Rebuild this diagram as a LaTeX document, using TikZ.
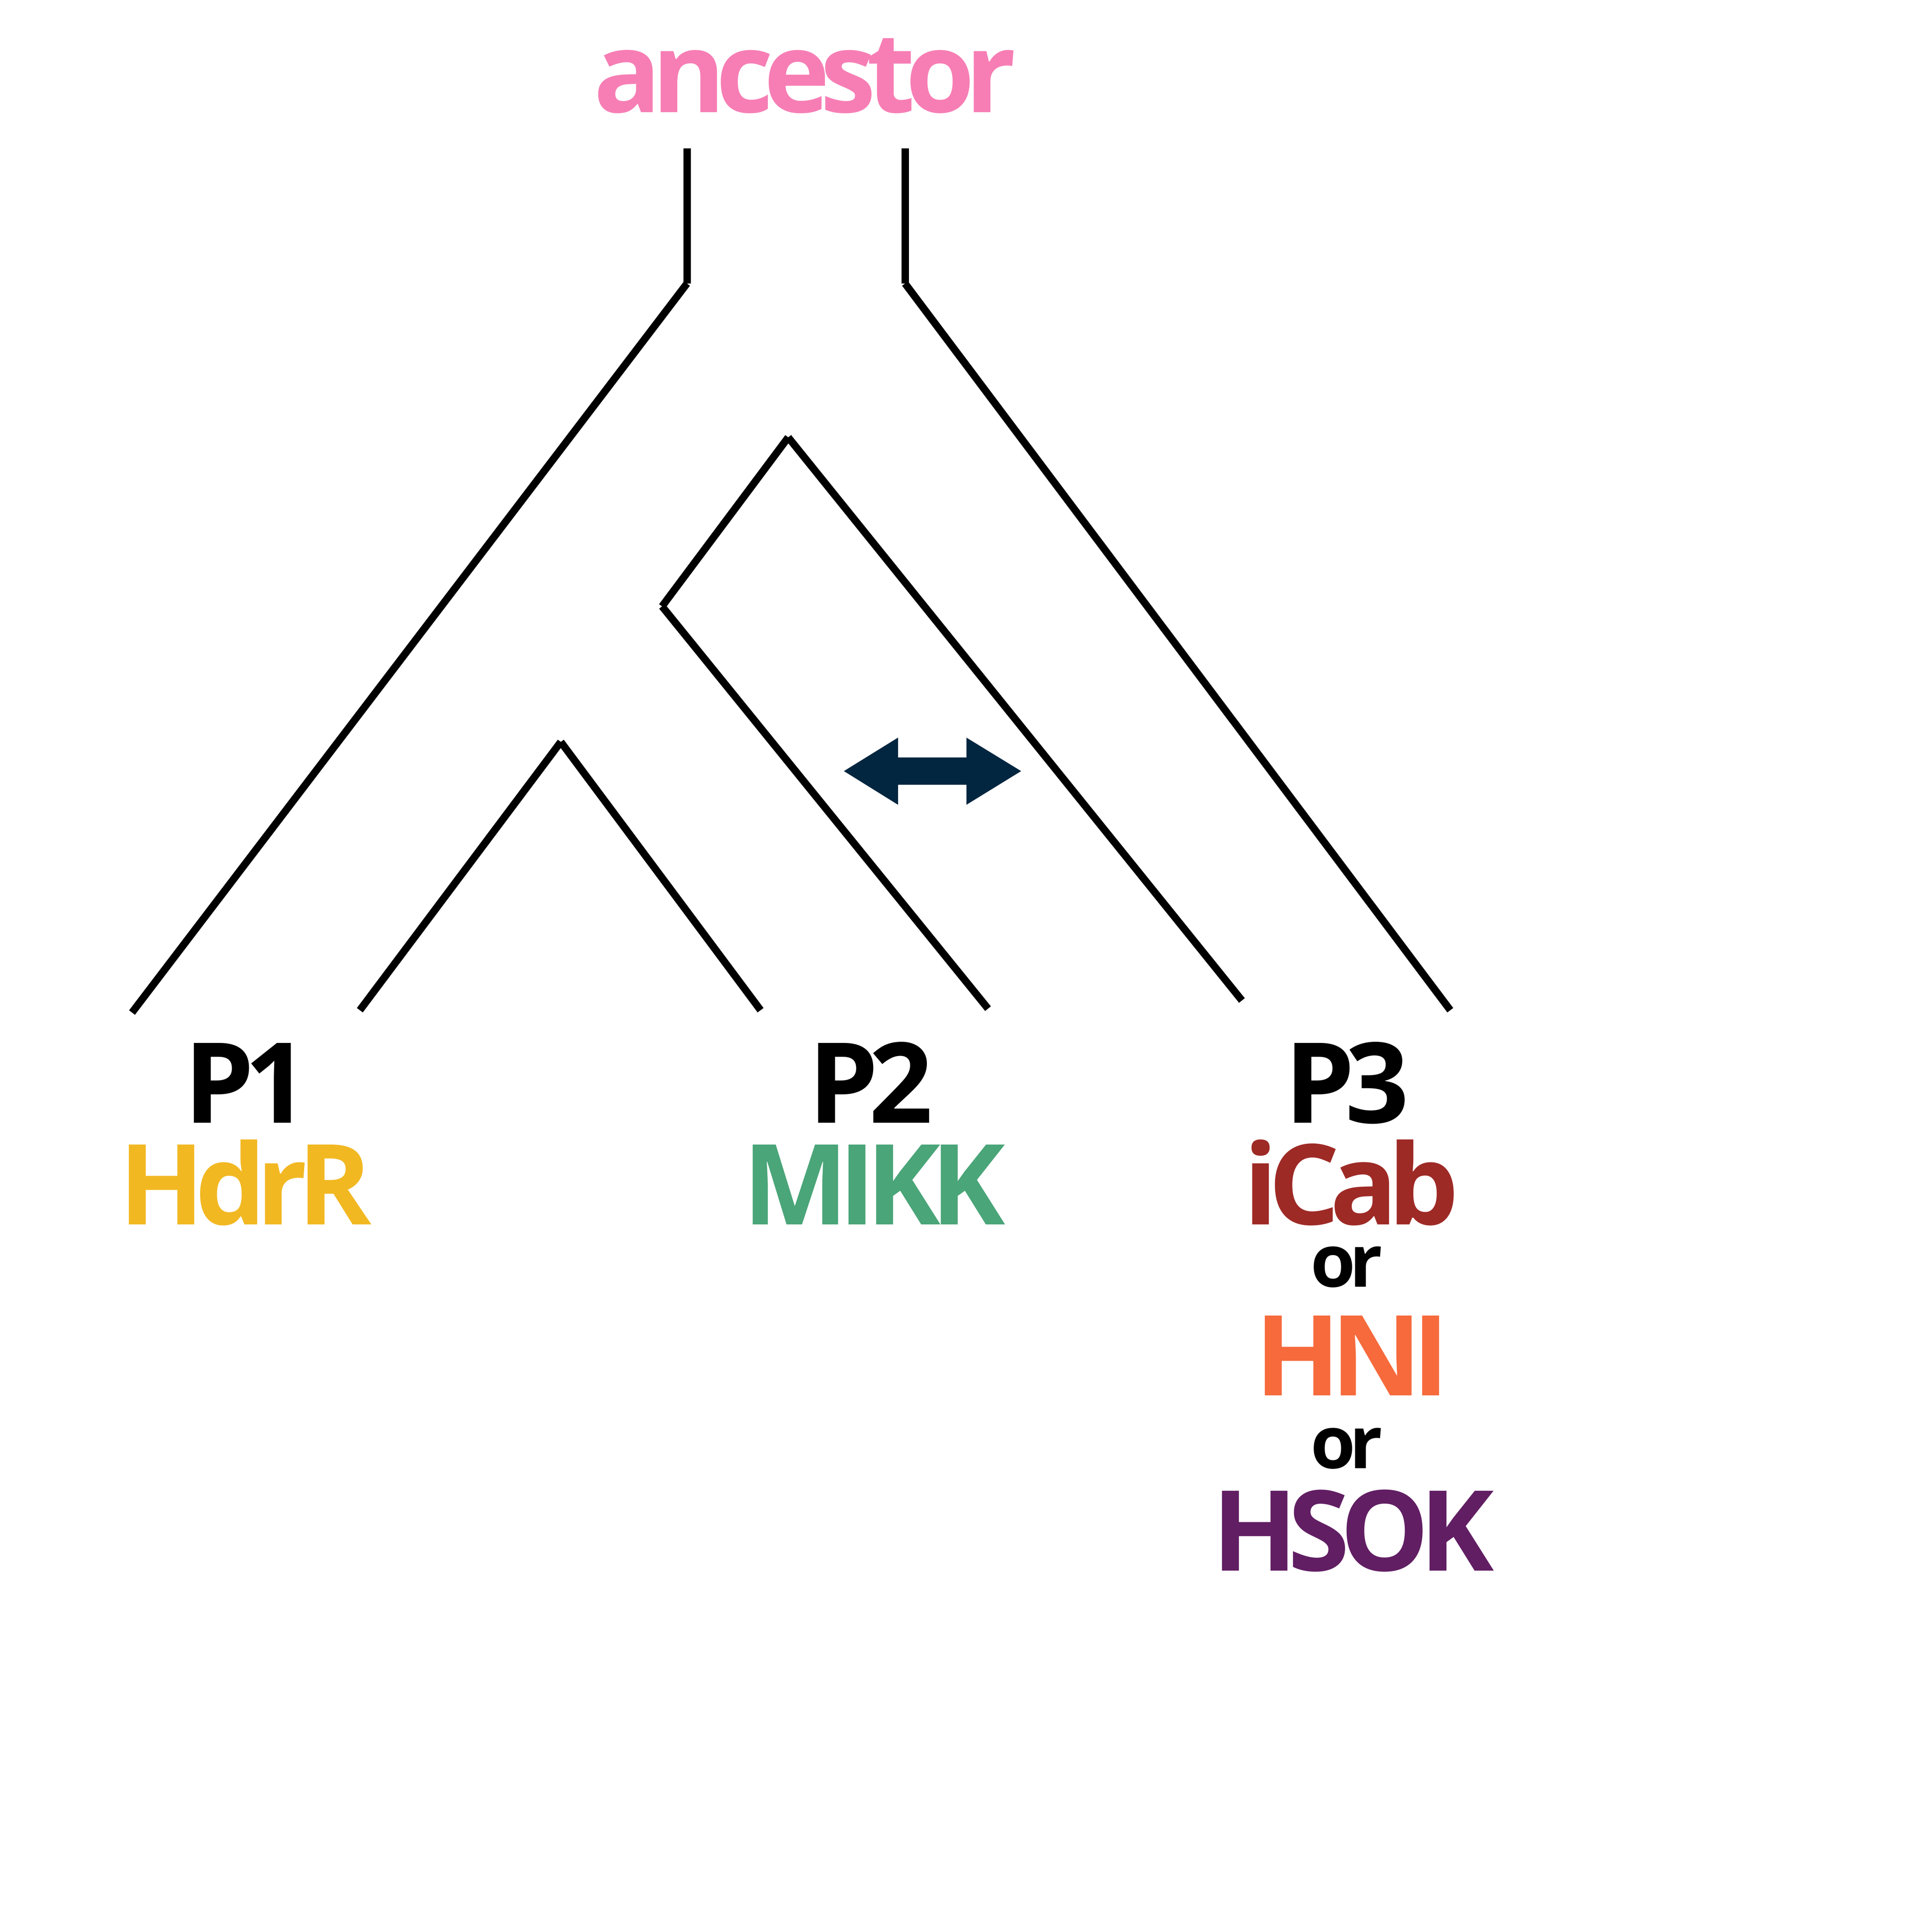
\documentclass[tikz,border=0pt]{standalone}
\usepackage{fontspec}
\setmainfont{Open Sans}[LetterSpace=-8.5]
\definecolor{ancpink}{RGB}{247,126,181}
\definecolor{hdryellow}{RGB}{242,184,34}
\definecolor{mikgreen}{RGB}{74,165,121}
\definecolor{icabred}{RGB}{158,42,38}
\definecolor{hniorange}{RGB}{246,106,60}
\definecolor{hsokpurple}{RGB}{97,30,99}
\definecolor{flownavy}{RGB}{3,38,64}
\tikzset{
  branch/.style={line width=0.19cm, black},
  lbl/.style={anchor=base, inner sep=0pt, text height=2.1cm, text depth=0pt,
    font=\bfseries\fontsize{81.7pt}{90pt}\selectfont},
  orlbl/.style={anchor=base, inner sep=0pt, text height=1.0cm, text depth=0pt,
    font=\bfseries\fontsize{53pt}{60pt}\selectfont},
}
\begin{document}
\begin{tikzpicture}[x=1cm,y=-1cm]
\useasboundingbox (0,0) rectangle (49.61,49.61);

% labels
\node[lbl, text=ancpink] (anc) at (20.67,2.88) {ancestor};
\node[lbl] (p1) at (6.32,28.83) {P1};
\node[lbl, text=hdryellow] (hdrr) at (6.30,31.44) {HdrR};
\node[lbl] (p2) at (22.35,28.83) {P2};
\node[lbl, text=mikgreen] (mikk) at (22.44,31.44) {MIKK};
\node[lbl] (p3) at (34.58,28.83) {P3};
\node[lbl, text=icabred] (icab) at (34.70,31.44) {iCab};
\node[orlbl] (or1) at (34.58,33.04) {or};
\node[lbl, text=hniorange] (hni) at (34.72,35.83) {HNI};
\node[orlbl] (or2) at (34.58,37.70) {or};
\node[lbl, text=hsokpurple] (hsok) at (34.74,40.33) {HSOK};

% tree
\coordinate (stemL) at (17.64,3.81);
\coordinate (rootL) at (17.64,7.28);
\coordinate (stemR) at (23.24,3.81);
\coordinate (rootR) at (23.24,7.28);
\coordinate (n23) at (20.24,11.23);
\coordinate (n2) at (17.00,15.57);
\coordinate (n1) at (14.40,19.05);
\coordinate (leafA) at (3.39,26.00);
\coordinate (leafB) at (9.24,25.94);
\coordinate (leafC) at (19.53,25.94);
\coordinate (leafD) at (25.37,25.90);
\coordinate (leafE) at (31.89,25.69);
\coordinate (leafF) at (37.24,25.94);

\draw[branch] (stemL) -- (rootL);
\draw[branch] (stemR) -- (rootR);
\draw[branch] (rootL) -- (leafA);
\draw[branch] (rootR) -- (leafF);
\draw[branch] (n23) -- (n2);
\draw[branch] (n23) -- (leafE);
\draw[branch] (n2) -- (leafD);
\draw[branch] (n1) -- (leafB);
\draw[branch] (n1) -- (leafC);

% gene flow
\fill[flownavy] (21.67,19.80) -- (23.06,18.94) -- (23.06,19.45) -- (24.815,19.45)
  -- (24.815,18.94) -- (26.22,19.80) -- (24.815,20.665) -- (24.815,20.15)
  -- (23.06,20.15) -- (23.06,20.665) -- cycle;

\end{tikzpicture}
\end{document}
